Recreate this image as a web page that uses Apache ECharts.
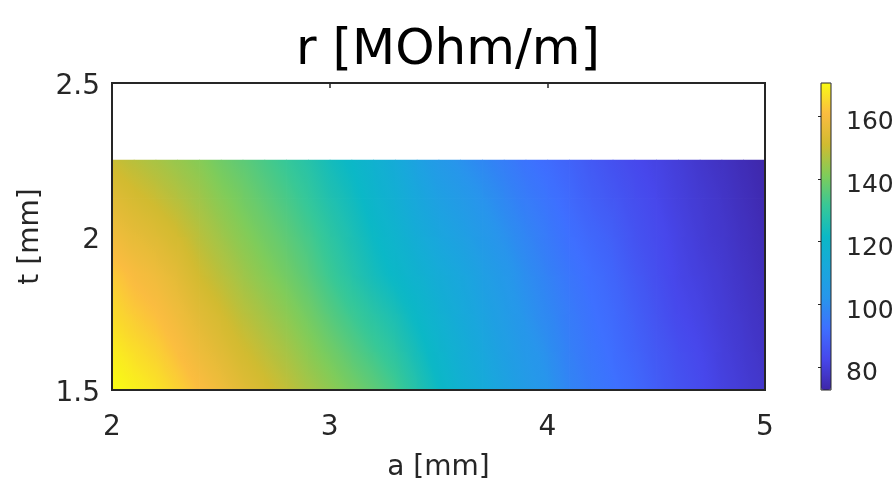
<!DOCTYPE html>
<html><head><meta charset="utf-8">
<script src="https://cdn.jsdelivr.net/npm/echarts@6/dist/echarts.min.js"></script>
<style>html,body{margin:0;padding:0;background:#fff}#c{width:896px;height:483px}</style>
</head><body><div id="c"></div>
<script>
// grid nodes along a [mm] and t [mm]
const aNodes = [2.0,2.1,2.2,2.3,2.4,2.5,2.6,2.7,2.8,2.9,3.0,3.1,3.2,3.3,3.4,3.5,3.6,3.7,3.8,3.9,4.0,4.1,4.2,4.3,4.4,4.5,4.6,4.7,4.8,4.9,5.0];
const tNodes = [1.5,1.625,1.75,1.875,2.0,2.125,2.25];
// r [MOhm/m] at the nodes, one row per t (bottom to top)
const rT1500 = [171,169,167,164,161,158,154.5,152,149,146,143,140,137,133,127.5,122,117,113.5,109,105,102,98,95,93,91,88,85.5,83.5,81,79.5,77.5];
const rT1625 = [168.5,166,164,161,157.5,154.5,151.5,148.5,146,142.5,139.5,136,132.5,129,124,119.5,115,111.5,107,103.5,100.5,96.5,94,92,89.5,87,84.5,82.5,80.5,78.5,77];
const rT1750 = [165.5,163,161,158,154.5,151.5,148,145.5,142.5,139.5,135.5,132,128.5,125,121,116.5,113,109,105.5,101.5,98.5,95.5,93,91,88.5,85.5,83,81.5,79.5,78,76];
const rT1875 = [163,160,158,155,151,148,145,142,139.5,136,132,128,124,121,117.5,114,111,107,103.5,100,97,94,92,90,87,84.5,82,80.5,79,77,75.5];
const rT2000 = [158.5,156,154,151.5,148,145,142,139.5,136.5,133.5,129.5,125.5,122,118.5,114.5,110.5,107.5,104,101,98,95,92.5,90.5,88.5,85.5,83.5,81.5,79.5,78,76.5,74.5];
const rT2125 = [154.5,152,150,147.5,145,142,139.5,136.5,134,130.5,126.5,123.5,119.5,116,111.5,107.5,104.5,101.5,98.5,95.5,93.5,91,88.5,86.5,84.5,82.5,80.5,79,77.5,75.5,74];
const rT2250 = [150,148,146,144,142,139,136.5,134,131,128,124,121,117.5,113.5,108.5,104,101,98.5,96,93.5,91.5,89.5,87,85,83,81.5,80,78,76.5,75,73];
const rRows = [rT1500, rT1625, rT1750, rT1875, rT2000, rT2125, rT2250];
const colorbarTicks = [80,100,120,140,160];
const colorbarMin = 72.8;
const colorbarMax = 170.5;
const parula = ['#3e26a8','#4747eb','#3e6fff','#2796eb','#18a8db','#0bb8c6','#37c897','#80cc59','#d1bb30','#fbbc40','#f9fb15'];

// one cell per pair of neighbouring nodes: [a0, a1, t0, t1, v00, v10, v01, v11, mean]
const cells = [];
for (let j = 0; j < tNodes.length - 1; j++) {
  for (let i = 0; i < aNodes.length - 1; i++) {
    const v00 = rRows[j][i], v10 = rRows[j][i+1], v01 = rRows[j+1][i], v11 = rRows[j+1][i+1];
    cells.push([aNodes[i], aNodes[i+1], tNodes[j], tNodes[j+1], v00, v10, v01, v11, (v00+v10+v01+v11)/4]);
  }
}

function colorOf(v) {
  const n = Math.min(1, Math.max(0, (v - colorbarMin) / (colorbarMax - colorbarMin)));
  return echarts.color.lerp(n, parula);
}

const FONT = 'DejaVu Sans';
const TXT = '#262626';
const chart = echarts.init(document.getElementById('c'), null, {renderer:'canvas'});
chart.setOption({
  animation: false,
  backgroundColor: '#fff',
  textStyle: {fontFamily: FONT},
  title: {
    text: 'r [MOhm/m]', left: 'center', top: 21,
    textStyle: {fontFamily: FONT, fontSize: 50, fontWeight: 'normal', color: '#000'}
  },
  grid: [
    {left: 112, top: 83, width: 653, height: 307, show: true, borderColor: TXT, borderWidth: 2, z: 10,
     containLabel: false, outerBoundsMode: 'none'},
    {left: 821, top: 83, width: 10, height: 307, show: true, borderColor: TXT, borderWidth: 1, z: 10,
     containLabel: false, outerBoundsMode: 'none'}
  ],
  xAxis: [
    {gridIndex: 0, type: 'value', min: 2, max: 5, interval: 1, position: 'bottom',
     axisLine: {show: false}, axisTick: {show: false}, splitLine: {show: false},
     axisLabel: {fontSize: 28, color: TXT, margin: 24, fontFamily: FONT},
     name: 'a [mm]', nameLocation: 'middle', nameGap: 64,
     nameTextStyle: {fontSize: 28, color: TXT, fontFamily: FONT}},
    {gridIndex: 0, type: 'value', min: 2, max: 5, interval: 1, position: 'top', z: 11,
     axisLine: {show: false}, axisLabel: {show: false}, splitLine: {show: false},
     axisTick: {show: true, inside: true, length: 5, lineStyle: {color: TXT, width: 1.5}}},
    {gridIndex: 1, type: 'value', min: 0, max: 1, show: false}
  ],
  yAxis: [
    {gridIndex: 0, type: 'value', min: 1.5, max: 2.5, interval: 0.5,
     axisLine: {show: false}, axisTick: {show: false}, splitLine: {show: false},
     axisLabel: {fontSize: 28, color: TXT, margin: 12, fontFamily: FONT, verticalAlign: 'top', lineHeight: 8},
     name: 't [mm]', nameLocation: 'middle', nameGap: 66,
     nameTextStyle: {fontSize: 28, color: TXT, fontFamily: FONT}},
    {gridIndex: 1, type: 'value', min: colorbarMin, max: colorbarMax, position: 'right', z: 11,
     axisLine: {show: false}, splitLine: {show: false},
     axisTick: {show: true, inside: true, length: 3, customValues: colorbarTicks, lineStyle: {color: TXT, width: 1}},
     axisLabel: {fontSize: 25, color: TXT, margin: 15, fontFamily: FONT, customValues: colorbarTicks, verticalAlign: 'top', lineHeight: 13}}
  ],
  visualMap: {
    type: 'continuous', min: colorbarMin, max: colorbarMax, dimension: 8, seriesIndex: 0,
    calculable: false, hoverLink: false, orient: 'vertical',
    left: 821, top: 83, itemWidth: 10, itemHeight: 307, padding: 0,
    inRange: {color: parula}, showLabel: false
  },
  series: [{
    type: 'custom', xAxisIndex: 0, yAxisIndex: 0, clip: true,
    encode: {x: [0, 1], y: [2, 3]},
    data: cells,
    renderItem: function (params, api) {
      const a0 = api.value(0), a1 = api.value(1), t0 = api.value(2), t1 = api.value(3);
      const v00 = api.value(4), v10 = api.value(5), v01 = api.value(6), v11 = api.value(7), avg = api.value(8);
      const pTL = api.coord([a0, t1]);
      const pBR = api.coord([a1, t0]);
      const w = pBR[0] - pTL[0], h = pBR[1] - pTL[1];
      const gx = ((v10 - v00) + (v11 - v01)) / 2 / w;
      const gy = -((v01 - v00) + (v11 - v10)) / 2 / h;
      const mag = Math.hypot(gx, gy);
      let fill;
      if (mag < 1e-9) {
        fill = colorOf(avg);
      } else {
        const ux = gx / mag, uy = gy / mag;
        const ext = Math.abs(ux) * w / 2 + Math.abs(uy) * h / 2;
        const cx = pTL[0] + w / 2, cy = pTL[1] + h / 2;
        const vS = avg - mag * ext, vE = avg + mag * ext;
        const stops = [];
        for (let k = 0; k <= 6; k++) stops.push({offset: k / 6, color: colorOf(vS + (vE - vS) * k / 6)});
        fill = new echarts.graphic.LinearGradient(cx - ux * ext, cy - uy * ext, cx + ux * ext, cy + uy * ext, stops, true);
      }
      return {type: 'rect', shape: {x: pTL[0], y: pTL[1], width: w + 0.8, height: h + 0.8}, style: {fill: fill}};
    }
  }]
});
</script></body></html>
